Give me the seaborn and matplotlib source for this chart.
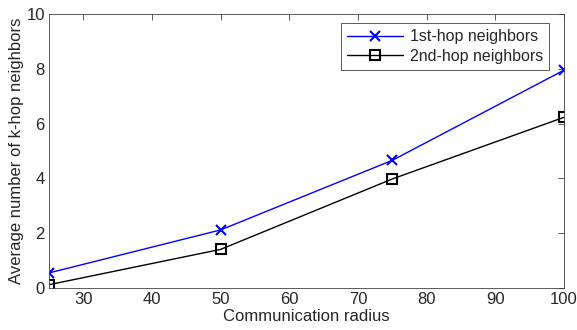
import matplotlib
matplotlib.use("Agg")
import matplotlib.pyplot as plt
import seaborn as sns
import pandas as pd

radius = [25, 50, 75, 100]
first_hop = [0.55, 2.12, 4.66, 7.95]
second_hop = [0.12, 1.41, 3.98, 6.23]
labels = ["1st-hop neighbors", "2nd-hop neighbors"]

sns.set_theme(style="white")
plt.rcParams['font.family'] = ['Liberation Sans', 'DejaVu Sans']

df1 = pd.DataFrame({"radius": radius, "value": first_hop})
df2 = pd.DataFrame({"radius": radius, "value": second_hop})

fig = plt.figure(figsize=(5.77, 3.30), dpi=100)
ax = fig.add_axes([49 / 577, 42 / 330, 515 / 577, 274 / 330])

sns.lineplot(data=df1, x="radius", y="value", color="#0000ff", marker="x",
             markersize=7, markeredgewidth=1.5, markeredgecolor="#0000ff",
             linewidth=1, label=labels[0], ax=ax)
sns.lineplot(data=df2, x="radius", y="value", color="black", marker="s",
             markersize=6.5, markeredgewidth=1.5, markerfacecolor="none",
             markeredgecolor="black", linewidth=1, label=labels[1], ax=ax)

ax.set_xlim(25, 100)
ax.set_ylim(0, 10)
ax.set_xticks([30, 40, 50, 60, 70, 80, 90, 100])
ax.set_yticks([0, 2, 4, 6, 8, 10])
ax.set_xlabel("Communication radius", fontsize=12, color="#262626", labelpad=1)
ax.set_ylabel("Average number of k-hop neighbors", fontsize=12, color="#262626", labelpad=2)
ax.tick_params(direction="in", top=True, right=True, length=4, width=0.6,
               colors="#404040", labelsize=12, pad=3, labelcolor="#262626")
for s in ax.spines.values():
    s.set_visible(True)
    s.set_color("#404040")
    s.set_linewidth(0.6)

h, l = ax.get_legend_handles_labels()
leg = ax.legend(h, l, loc="upper right", bbox_to_anchor=(0.971, 0.967), fontsize=11.5,
                frameon=True, fancybox=False, edgecolor="#404040", framealpha=1,
                handlelength=3.5, borderpad=0.38, labelspacing=0.28, handletextpad=0.4,
                borderaxespad=0)
leg.get_frame().set_linewidth(0.6)
for t in leg.get_texts():
    t.set_color("#262626")

fig.savefig("out.png", dpi=100)
